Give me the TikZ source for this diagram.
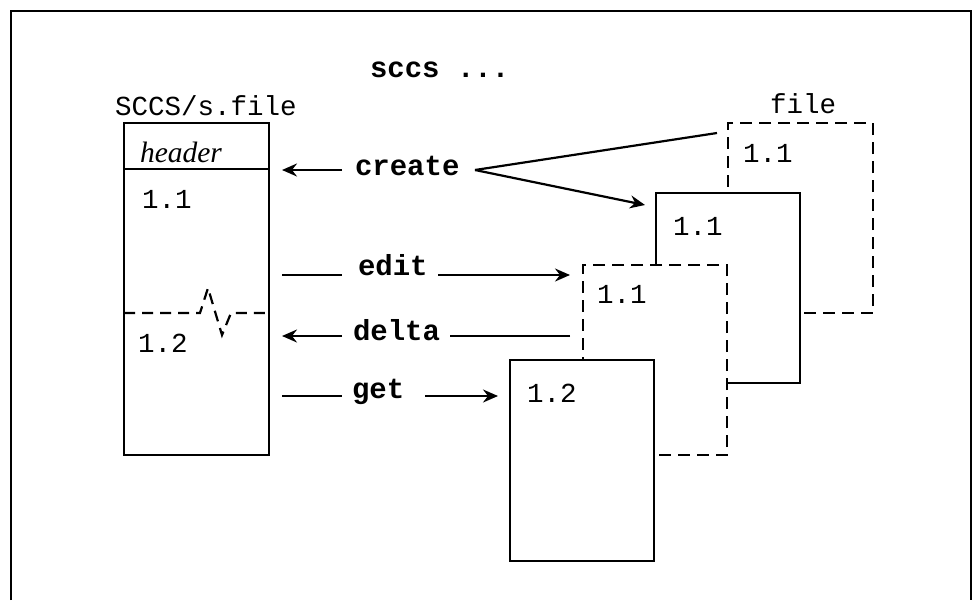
\documentclass[tikz,border=0pt]{standalone}
\usepackage{fontspec}
\setmonofont{Liberation Mono}
\newfontfamily\hdrfont{Liberation Serif}
\usetikzlibrary{arrows.meta}
\begin{document}
\begin{tikzpicture}[x=1pt,y=-1pt,
  every node/.style={inner sep=0pt, outer sep=0pt},
  lbl/.style={anchor=base west, font=\fontsize{27.5}{30}\selectfont\ttfamily},
  cmd/.style={anchor=base west, font=\fontsize{29}{32}\selectfont\ttfamily\bfseries},
  hdrlbl/.style={anchor=base west, font=\fontsize{29.5}{32}\selectfont\hdrfont\itshape},
  sbox/.style={draw, line width=2.2pt, fill=white, anchor=north west},
  dbox/.style={draw, line width=2.2pt, fill=white, anchor=north west, dash pattern=on 12pt off 7pt},
  dline/.style={line width=2.2pt, dash pattern=on 11pt off 7pt},
  plain/.style={line width=2.2pt},
  arr/.style={line width=2.2pt, -{Stealth[length=15pt,width=13pt,inset=5pt]}}
]
\useasboundingbox (0,0) rectangle (974,600);
% outer frame
\draw[line width=1.8pt] (11,600) -- (11,11) -- (971,11) -- (971,600);

% stacked file boxes (back to front)
\node[dbox, minimum width=145pt, minimum height=190pt] (w1) at (728,123) {};
\node[sbox, minimum width=144pt, minimum height=190pt] (w2) at (656,193) {};
\node[dbox, minimum width=144pt, minimum height=190pt] (w3) at (583,265) {};
\node[sbox, minimum width=144pt, minimum height=201pt] (w4) at (510,360) {};

% s.file box
\node[sbox, minimum width=145pt, minimum height=332pt] (sfile) at (124,123) {};
\coordinate (hy) at (0,169);
\draw[plain] (sfile.west |- hy) -- (sfile.east |- hy);
\coordinate (zy) at (0,313);
\draw[dline] (sfile.west |- zy) -- (200,313) -- (208,288) -- (222,335) -- (231,313) -- (sfile.east |- zy);

% texts
\node[cmd] (sccs) at (370,77) {sccs ...};
\node[lbl] (sname) at (115,115) {SCCS/s.file};
\node[lbl] (fname) at (770,113) {file};
\node[hdrlbl] (hdr) at (140,162) {header};
\node[lbl] (v11) at (142,208) {1.1};
\node[lbl] (v12) at (138,352) {1.2};
\node[lbl] (w1v) at (743,162) {1.1};
\node[lbl] (w2v) at (673,235) {1.1};
\node[lbl] (w3v) at (597,303) {1.1};
\node[lbl] (w4v) at (527,402) {1.2};
\node[cmd] (create) at (355,175) {create};
\node[cmd] (edit) at (358,275) {edit};
\node[cmd] (delta) at (353,340) {delta};
\node[cmd] (get) at (352,398) {get};

% connector end points
\coordinate (crA) at (342,170);
\coordinate (crB) at (282,170);
\coordinate (crV) at (475,170);
\coordinate (crU) at (717,133);
\coordinate (crD) at (645,205);
\coordinate (edA) at (282,275);
\coordinate (edB) at (342,275);
\coordinate (edC) at (438,275);
\coordinate (edD) at (570,275);
\coordinate (deA) at (570,336);
\coordinate (deB) at (450,336);
\coordinate (deC) at (342,336);
\coordinate (deD) at (282,336);
\coordinate (geA) at (282,396);
\coordinate (geB) at (342,396);
\coordinate (geC) at (425,396);
\coordinate (geD) at (498,396);

% connectors
\draw[arr] (crA) -- (crB);
\draw[plain] (crU) -- (crV);
\draw[arr] (crV) -- (crD);
\draw[plain] (edA) -- (edB);
\draw[arr] (edC) -- (edD);
\draw[plain] (deA) -- (deB);
\draw[arr] (deC) -- (deD);
\draw[plain] (geA) -- (geB);
\draw[arr] (geC) -- (geD);
\end{tikzpicture}
\end{document}
